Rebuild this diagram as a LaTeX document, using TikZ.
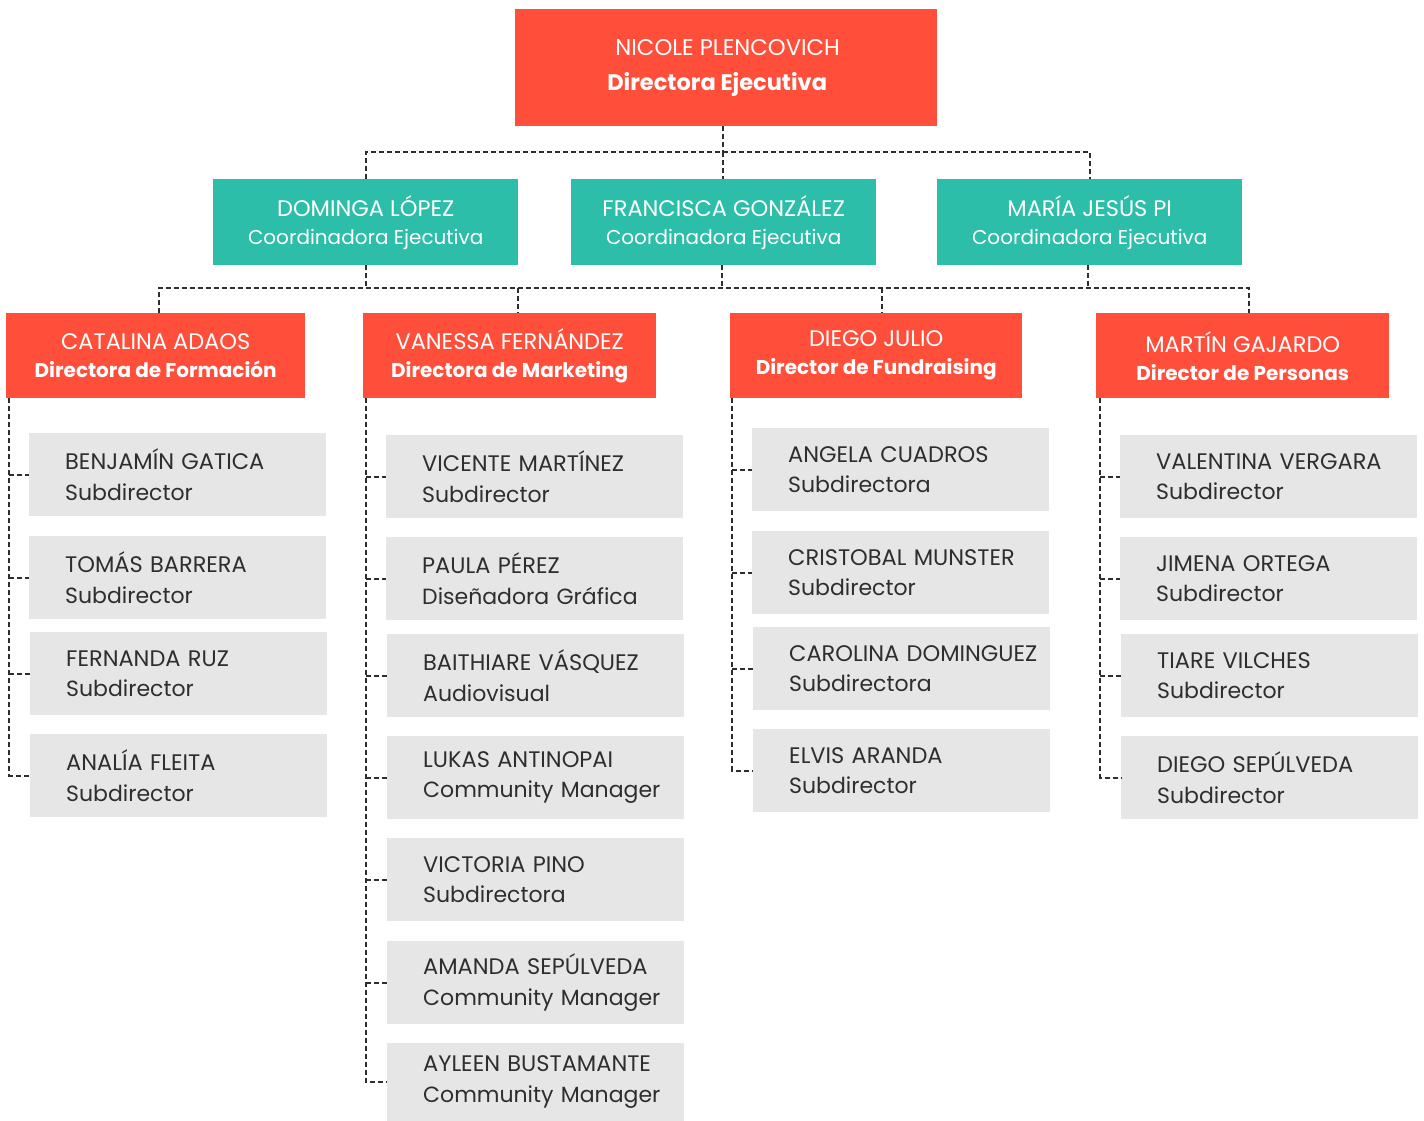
\documentclass[tikz,border=0pt]{standalone}
\usepackage{fontspec}
\setmainfont{Poppins}
\definecolor{topred}{HTML}{FF4F3B}
\definecolor{teal2}{HTML}{2DBEA9}
\definecolor{boxgray}{HTML}{E6E6E6}
\definecolor{ink}{HTML}{2E2E2E}
\newcommand{\nmA}{\fontsize{22.5}{28}\selectfont}
\newcommand{\rlA}{\fontsize{20}{28}\selectfont}
\newcommand{\nmG}{\fontsize{22.5}{30.5}\selectfont}
\newcommand{\rlG}{\fontsize{22}{30.5}\selectfont}
\begin{document}
\begin{tikzpicture}[x=1pt,y=-1pt,
  redbox/.style={fill=topred,text=white,align=center,inner sep=0pt,anchor=north west},
  tealbox/.style={fill=teal2,text=white,align=center,inner sep=0pt,anchor=north west,minimum width=305pt,minimum height=86pt,font=\rlA},
  lvbox/.style={fill=topred,text=white,align=center,inner sep=0pt,anchor=north west,minimum height=85pt,font=\rlA},
  graybox/.style={fill=boxgray,text=ink,align=left,inner xsep=0pt,inner ysep=0pt,anchor=north west,minimum width=297pt,minimum height=83pt,text width=225pt,font=\rlG},
  conn/.style={draw=ink,line width=1.8pt,dash pattern=on 5pt off 3pt}]
\useasboundingbox (0,0) rectangle (1424,1121);
% top
\node[redbox,minimum width=422pt,minimum height=117pt,font=\fontsize{22.7}{35}\selectfont] (top) at (515,9)
  {\hspace*{3pt}NICOLE PLENCOVICH\\\hspace*{-18pt}{\fontsize{22.5}{35}\selectfont\bfseries Directora Ejecutiva}};
% coordinators
\node[tealbox] (c1) at (213,179) {{\nmA DOMINGA LÓPEZ}\\Coordinadora Ejecutiva};
\node[tealbox] (c2) at (571,179) {{\nmA FRANCISCA GONZÁLEZ}\\Coordinadora Ejecutiva};
\node[tealbox] (c3) at (937,179) {{\nmA MARÍA JESÚS PI}\\Coordinadora Ejecutiva};
% directors
\node[lvbox,minimum width=299pt] (d1) at (6,313) {{\nmA CATALINA ADAOS}\\{\bfseries Directora de Formación}};
\node[lvbox,minimum width=293pt] (d2) at (363,313) {{\nmA VANESSA FERNÁNDEZ}\\{\bfseries Directora de Marketing}};
\node[lvbox,minimum width=292pt] (d3) at (730,313) {{\nmA DIEGO JULIO}\\{\bfseries Director de Fundraising}};
\node[lvbox,minimum width=293pt] (d4) at (1096,313) {{\nmA MARTÍN GAJARDO}\\{\bfseries Director de Personas}};
% column 1
\node[graybox] (a1) at (29,433) {\mbox{\nmG BENJAMÍN GATICA}\\\mbox{Subdirector}};
\node[graybox] (a2) at (29,536) {\mbox{\nmG TOMÁS BARRERA}\\\mbox{Subdirector}};
\node[graybox] (a3) at (30,632) {\mbox{\nmG FERNANDA RUZ}\\\mbox{Subdirector}};
\node[graybox] (a4) at (30,734) {\mbox{\nmG ANALÍA FLEITA}\\\mbox{Subdirector}};
% column 2
\node[graybox] (b1) at (386,435) {\mbox{\nmG VICENTE MARTÍNEZ}\\\mbox{Subdirector}};
\node[graybox] (b2) at (386,537) {\mbox{\nmG PAULA PÉREZ}\\\mbox{Diseñadora Gráfica}};
\node[graybox] (b3) at (387,634) {\mbox{\nmG BAITHIARE VÁSQUEZ}\\\mbox{Audiovisual}};
\node[graybox] (b4) at (387,736) {\mbox{\nmG LUKAS ANTINOPAI}\\\mbox{Community Manager}};
\node[graybox] (b5) at (387,838) {\mbox{\nmG VICTORIA PINO}\\\mbox{Subdirectora}};
\node[graybox] (b6) at (387,941) {\mbox{\nmG AMANDA SEPÚLVEDA}\\\mbox{Community Manager}};
\node[graybox,minimum height=78pt] (b7) at (387,1043) {\mbox{\nmG AYLEEN BUSTAMANTE}\\\mbox{Community Manager}};
% column 3
\node[graybox] (e1) at (752,428) {\mbox{\nmG ANGELA CUADROS}\\\mbox{Subdirectora}};
\node[graybox] (e2) at (752,531) {\mbox{\nmG CRISTOBAL MUNSTER}\\\mbox{Subdirector}};
\node[graybox] (e3) at (753,627) {\mbox{\nmG CAROLINA DOMINGUEZ}\\\mbox{Subdirectora}};
\node[graybox] (e4) at (753,729) {\mbox{\nmG ELVIS ARANDA}\\\mbox{Subdirector}};
% column 4
\node[graybox] (f1) at (1120,435) {\mbox{\nmG VALENTINA VERGARA}\\\mbox{Subdirector}};
\node[graybox] (f2) at (1120,537) {\mbox{\nmG JIMENA ORTEGA}\\\mbox{Subdirector}};
\node[graybox] (f3) at (1121,634) {\mbox{\nmG TIARE VILCHES}\\\mbox{Subdirector}};
\node[graybox] (f4) at (1121,736) {\mbox{\nmG DIEGO SEPÚLVEDA}\\\mbox{Subdirector}};
% connectors level 1
\coordinate (busA) at (723,152);
\coordinate (busB) at (722,288);
\draw[conn] (busA |- top.south) -- (busA);
\draw[conn] (c1.north) -- (c1.north |- busA) -- (c3.north |- busA) -- (c3.north);
\draw[conn] (busA) -- (busA |- c2.north);
% connectors level 2
\coordinate (p1) at (366,0);
\coordinate (p2) at (722,0);
\coordinate (p3) at (1088,0);
\coordinate (q1) at (159,0);
\coordinate (q2) at (518,0);
\coordinate (q3) at (882,0);
\coordinate (q4) at (1249,0);
\draw[conn] (p1 |- c1.south) -- (p1 |- busB);
\draw[conn] (p2 |- c2.south) -- (p2 |- busB);
\draw[conn] (p3 |- c3.south) -- (p3 |- busB);
\draw[conn] (q1 |- d1.north) -- (q1 |- busB) -- (q4 |- busB) -- (q4 |- d4.north);
\draw[conn] (q2 |- busB) -- (q2 |- d2.north);
\draw[conn] (q3 |- busB) -- (q3 |- d3.north);
% connectors level 3
\coordinate (s1) at (9,0);
\coordinate (s2) at (366,0);
\coordinate (s3) at (732,0);
\coordinate (s4) at (1100,0);
\draw[conn] (s1 |- d1.south) -- (s1 |- a4.west) -- (a4.west);
\foreach \n in {a1,a2,a3} \draw[conn] (s1 |- \n.west) -- (\n.west);
\draw[conn] (s2 |- d2.south) -- (s2 |- b7.west) -- (b7.west);
\foreach \n in {b1,b2,b3,b4,b5,b6} \draw[conn] (s2 |- \n.west) -- (\n.west);
\draw[conn] (s3 |- d3.south) -- (s3 |- e4.west) -- (e4.west);
\foreach \n in {e1,e2,e3} \draw[conn] (s3 |- \n.west) -- (\n.west);
\draw[conn] (s4 |- d4.south) -- (s4 |- f4.west) -- (f4.west);
\foreach \n in {f1,f2,f3} \draw[conn] (s4 |- \n.west) -- (\n.west);
\end{tikzpicture}
\end{document}
